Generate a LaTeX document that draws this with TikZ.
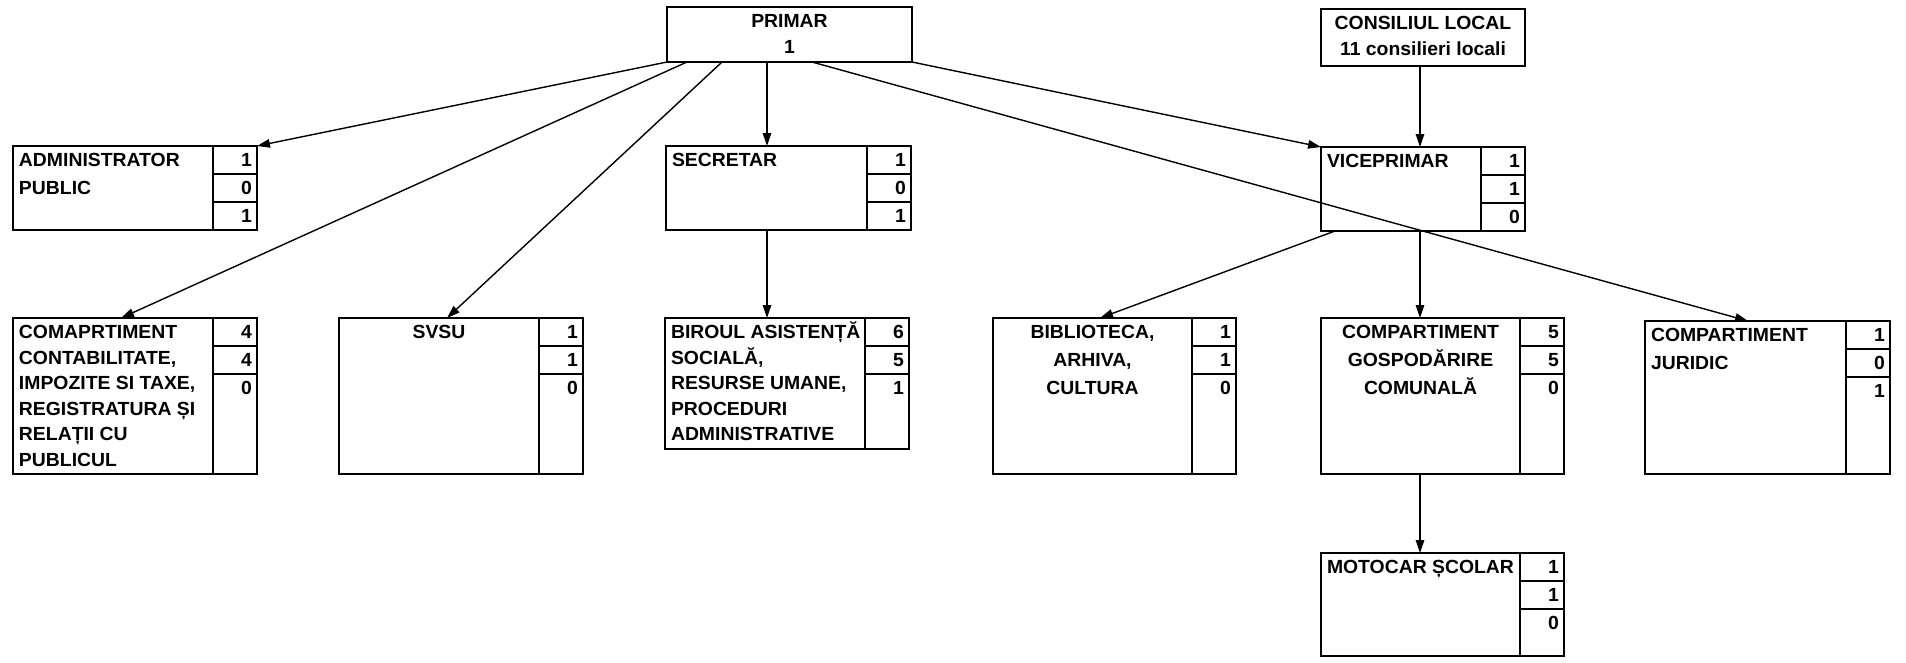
\documentclass[tikz,border=0pt]{standalone}
\usepackage{fontspec}
\setmainfont{Liberation Sans}[FakeStretch=1.02]
\usetikzlibrary{arrows.meta}
\tikzset{
  frame/.style={draw, line width=2.6pt, inner sep=0pt, outer sep=0pt, anchor=north west},
  divline/.style={line width=2.2pt},
  rowline/.style={line width=1.5pt},
  lbl/.style={font=\fontsize{19}{19}\selectfont\bfseries, inner sep=0pt, outer sep=0pt},
  arr/.style={line width=1.4pt, -{Triangle[length=13pt,width=8.5pt]}}
}
\newcommand{\OBnum}[4]{%
  \draw[divline] ([xshift=-44pt]#1.north east) -- ([xshift=-44pt]#1.south east);
  \draw[rowline] ([yshift=-28pt]#1.north east) -- ++(-44pt,0pt);
  \draw[rowline] ([yshift=-56pt]#1.north east) -- ++(-44pt,0pt);
  \node[lbl,anchor=base east] (#1-n1) at ([xshift=-5pt,yshift=-20.6pt]#1.north east) {#2};
  \node[lbl,anchor=base east] (#1-n2) at ([xshift=-5pt,yshift=-48.6pt]#1.north east) {#3};
  \node[lbl,anchor=base east] (#1-n3) at ([xshift=-5pt,yshift=-76.6pt]#1.north east) {#4};
}
\newcommand{\OBleft}[3]{%
  \foreach \ln [count=\i] in {#3} {
    \node[lbl,anchor=base west] (#1-t\i) at ([xshift=6pt,yshift={-20.6pt-(\i-1)*#2pt}]#1.north west) {\ln};
  }
}
\newcommand{\OBcenter}[4]{%
  \foreach \ln [count=\i] in {#4} {
    \node[lbl,anchor=base] (#1-t\i) at ([xshift=#2pt,yshift={-20.6pt-(\i-1)*#3pt}]#1.north west) {\ln};
  }
}
\begin{document}
\begin{tikzpicture}[x=1pt,y=-1pt]
\useasboundingbox (0,0) rectangle (1906,662);

% top boxes
\node[frame, minimum width=245pt, minimum height=55pt] (prim) at (667,7) {};
\OBcenter{prim}{122.5}{26}{PRIMAR,1}
\node[frame, minimum width=204pt, minimum height=57pt] (cons) at (1321,9) {};
\OBcenter{cons}{102}{26}{CONSILIUL LOCAL,11 consilieri locali}

% second row
\node[frame, minimum width=244pt, minimum height=84pt] (adm) at (13,146) {};
\OBnum{adm}{1}{0}{1}
\OBleft{adm}{28}{ADMINISTRATOR,PUBLIC}

\node[frame, minimum width=245pt, minimum height=84pt] (sec) at (666,146) {};
\OBnum{sec}{1}{0}{1}
\OBleft{sec}{28}{SECRETAR}

\node[frame, minimum width=204pt, minimum height=84pt] (vice) at (1321,147) {};
\OBnum{vice}{1}{1}{0}
\OBleft{vice}{28}{VICEPRIMAR}

% third row
\node[frame, minimum width=244pt, minimum height=156pt] (com) at (13,318) {};
\OBnum{com}{4}{4}{0}
\OBleft{com}{25.5}{COMAPRTIMENT,{CONTABILITATE,},{IMPOZITE SI TAXE,},REGISTRATURA ȘI,RELAȚII CU,PUBLICUL}

\node[frame, minimum width=244pt, minimum height=156pt] (svsu) at (339,318) {};
\OBnum{svsu}{1}{1}{0}
\OBcenter{svsu}{100}{28}{SVSU}

\node[frame, minimum width=244pt, minimum height=131pt] (bir) at (665,318) {};
\OBnum{bir}{6}{5}{1}
\OBleft{bir}{25.5}{BIROUL ASISTENȚĂ,{SOCIALĂ,},{RESURSE UMANE,},PROCEDURI,ADMINISTRATIVE}

\node[frame, minimum width=243pt, minimum height=156pt] (bib) at (993,318) {};
\OBnum{bib}{1}{1}{0}
\OBcenter{bib}{99.5}{28}{{BIBLIOTECA,},{ARHIVA,},CULTURA}

\node[frame, minimum width=243pt, minimum height=156pt] (gos) at (1321,318) {};
\OBnum{gos}{5}{5}{0}
\OBcenter{gos}{99.5}{28}{COMPARTIMENT,GOSPODĂRIRE,COMUNALĂ}

\node[frame, minimum width=245pt, minimum height=153pt] (jur) at (1645,321) {};
\OBnum{jur}{1}{0}{1}
\OBleft{jur}{28}{COMPARTIMENT,JURIDIC}

% fourth row
\node[frame, minimum width=243pt, minimum height=103pt] (moto) at (1321,553) {};
\OBnum{moto}{1}{1}{0}
\OBleft{moto}{28}{MOTOCAR ȘCOLAR}

% connectors
\draw[arr] (prim.south west) -- (adm.north east);
\draw[arr] ([xshift=20pt]prim.south west) -- ([xshift=108pt]com.north west);
\draw[arr] ([xshift=55pt]prim.south west) -- ([xshift=108pt]svsu.north west);
\draw[arr] ([xshift=100pt]prim.south west) -- ([xshift=101pt]sec.north west);
\draw[arr] ([xshift=145pt]prim.south west) -- ([xshift=103pt]jur.north west);
\draw[arr] (prim.south east) -- (vice.north west);
\draw[arr] ([xshift=99pt]cons.south west) -- ([xshift=99pt]vice.north west);
\draw[arr] ([xshift=101pt]sec.south west) -- ([xshift=102pt]bir.north west);
\draw[arr] ([xshift=14pt]vice.south west) -- ([xshift=107pt]bib.north west);
\draw[arr] ([xshift=99pt]vice.south west) -- ([xshift=99pt]gos.north west);
\draw[arr] ([xshift=99pt]gos.south west) -- ([xshift=99pt]moto.north west);
\end{tikzpicture}
\end{document}
